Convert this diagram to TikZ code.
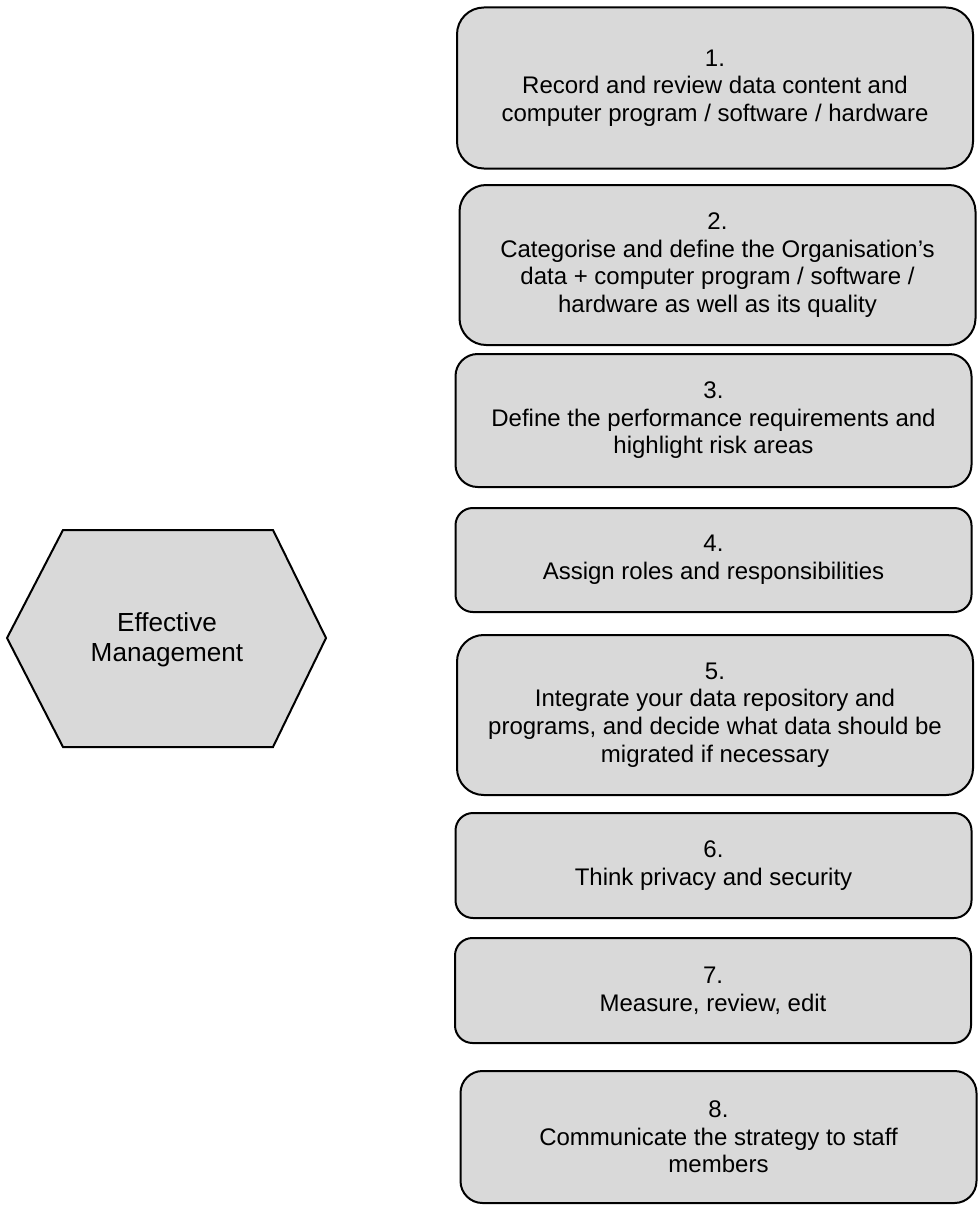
\documentclass[tikz,border=0pt]{standalone}
\usepackage{fontspec}
\setmainfont{Liberation Sans}
\usetikzlibrary{positioning}
\definecolor{emink}{HTML}{000000}
\definecolor{emboxfill}{HTML}{D9D9D9}
\tikzset{
  every picture/.style={font=\fontsize{18}{20.7}\selectfont,text=emink},
  stepbox/.style={draw=emink,fill=emboxfill,line width=1.5pt,align=center,
    inner sep=0pt,minimum width=387pt,minimum height=#1*0.75pt,
    rounded corners=#1*0.125pt},
  hexshape/.style={draw=emink,fill=emboxfill,line width=1.5pt,line join=miter},
  hexlabel/.style={align=center,inner sep=0pt,
    font=\fontsize{19.6}{22.4}\selectfont},
}

\begin{document}
\begin{tikzpicture}[x=0.75pt,y=-0.75pt]
  \path[use as bounding box] (0,0) rectangle (978,1206);
  % Hexagon corners, then the label on top of the fill.
  \coordinate (hexW) at (7,638);
  \coordinate (hexNW) at (63,530);
  \coordinate (hexNE) at (273,530);
  \coordinate (hexE) at (326,638);
  \coordinate (hexSE) at (273,747);
  \coordinate (hexSW) at (63,747);
  \draw[hexshape] (hexW)--(hexNW)--(hexNE)--(hexE)--(hexSE)--(hexSW)--cycle;
  \node[hexlabel] (hub) at (167,640) {Effective\\Management};
  \node[stepbox=161] (step1) at (715,88)
    {1.\\Record and review data content and\\computer program / software / hardware};
  \node[stepbox=160] (step2) at (717.5,265)
    {2.\\Categorise and define the Organisation’s\\data + computer program / software /\\hardware as well as its quality};
  \node[stepbox=133] (step3) at (713.5,420.5)
    {3.\\Define the performance requirements and\\highlight risk areas};
  \node[stepbox=104] (step4) at (713.5,560)
    {4.\\Assign roles and responsibilities};
  \node[stepbox=160] (step5) at (715,715)
    {5.\\Integrate your data repository and\\programs, and decide what data should be\\migrated if necessary};
  \node[stepbox=105] (step6) at (713.5,865.5)
    {6.\\Think privacy and security};
  \node[stepbox=105] (step7) at (713,990.5)
    {7.\\Measure, review, edit};
  \node[stepbox=132] (step8) at (718.5,1137)
    {8.\\Communicate the strategy to staff\\members};
\end{tikzpicture}
\end{document}
